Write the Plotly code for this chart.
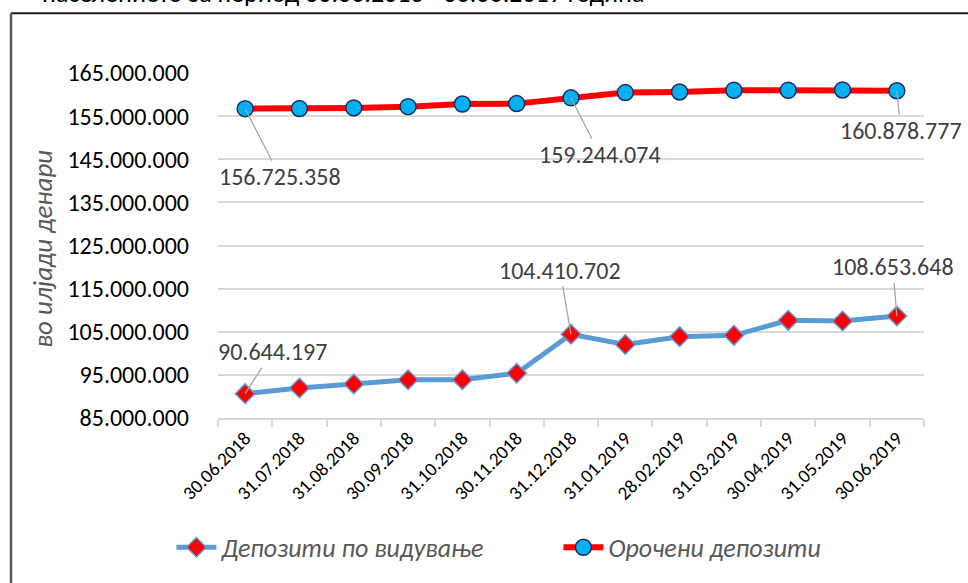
import plotly.graph_objects as go

dates = ["30.06.2018", "31.07.2018", "31.08.2018", "30.09.2018", "31.10.2018",
         "30.11.2018", "31.12.2018", "31.01.2019", "28.02.2019", "31.03.2019",
         "30.04.2019", "31.05.2019", "30.06.2019"]
demand = [90644197, 91970000, 92880000, 93860000, 93860000, 95380000, 104410702,
          102050000, 103860000, 104170000, 107650000, 107500000, 108653648]
term = [156725358, 156750000, 156900000, 157200000, 157800000, 157900000, 159244074,
        160450000, 160600000, 161000000, 161000000, 161060000, 160878777]
yticks = [85e6, 95e6, 105e6, 115e6, 125e6, 135e6, 145e6, 155e6, 165e6]
ytick_text = ["85.000.000", "95.000.000", "105.000.000", "115.000.000", "125.000.000",
              "135.000.000", "145.000.000", "155.000.000", "165.000.000"]
name_demand = "Депозити по видување"
name_term = "Орочени депозити"
ytitle = "во илјади денари"
top_text = "населението за период 30.06.2018 - 30.06.2019 година"

FONT = "Carlito, Lato, 'Open Sans', sans-serif"


def fmt(v):
    return f"{int(v):,}".replace(",", ".")


fig = go.Figure()
fig.add_trace(go.Scatter(
    x=dates, y=demand, name=name_demand, mode="lines+markers",
    line=dict(color="#5b9bd5", width=5),
    marker=dict(symbol="diamond", size=15, color="#ff0000",
                line=dict(color="#5b9bd5", width=1.5)),
))
fig.add_trace(go.Scatter(
    x=dates, y=term, name=name_term, mode="lines+markers",
    line=dict(color="#ff0000", width=6),
    marker=dict(symbol="circle", size=16, color="#00b0f0",
                line=dict(color="#1f2d5c", width=1.5)),
))

# data labels (index, series, ax, ay)
labels = [
    (0, term, 35, 68), (6, term, 29, 57), (12, term, 4, 40),
    (0, demand, 27, -42), (6, demand, -11, -64), (12, demand, -4, -49),
]
for i, s, ax, ay in labels:
    fig.add_annotation(
        x=dates[i], y=s[i], text=fmt(s[i]), showarrow=True, arrowhead=0,
        arrowcolor="#a6a6a6", arrowwidth=1.3, ax=ax, ay=ay, standoff=0,
        font=dict(family=FONT, size=24, color="#404040"),
    )

# y-axis title
fig.add_annotation(
    xref="paper", yref="paper", x=-0.249, y=0.491, xanchor="center", yanchor="middle",
    text=ytitle, textangle=-90, showarrow=False,
    font=dict(family=FONT, size=27, color="#595959", style="italic"),
)
# clipped title text at the top
fig.add_annotation(
    xref="paper", yref="paper", x=-0.252, y=1.232, xanchor="left", yanchor="middle",
    text=top_text, showarrow=False, font=dict(family=FONT, size=26, color="#000000"),
)

# chart border (top and left)
fig.add_shape(type="line", xref="paper", yref="paper", x0=-0.2932, x1=1.08,
              y0=1.173, y1=1.173, line=dict(color="#1a1a1a", width=2))
fig.add_shape(type="line", xref="paper", yref="paper", x0=-0.2932, x1=-0.2932,
              y0=1.173, y1=-0.48, line=dict(color="#5a5a5a", width=2.5))

fig.update_layout(
    width=968, height=583,
    margin=dict(l=218, r=44, t=73, b=158),
    paper_bgcolor="white", plot_bgcolor="white",
    font=dict(family=FONT, color="#000000"),
    showlegend=True,
    legend=dict(orientation="h", x=-0.066, xanchor="left", y=-0.375, yanchor="middle",
                font=dict(family=FONT, size=26, color="#595959", style="italic"),
                itemwidth=40, traceorder="normal", entrywidth=332,
                entrywidthmode="pixels"),
)
fig.update_xaxes(
    type="category", range=[-0.5, 12.5], tickangle=-45,
    tickfont=dict(family=FONT, size=19, color="#000000"),
    showgrid=False, showline=True, linecolor="#d9d9d9", linewidth=1.5,
    ticks="outside", tickson="boundaries", ticklen=7, tickcolor="#d9d9d9", tickwidth=1.5,
)
fig.update_yaxes(
    range=[85e6, 165e6], tickvals=yticks, ticktext=ytick_text,
    tickfont=dict(family=FONT, size=24, color="#000000"),
    showgrid=True, gridcolor="#d9d9d9", gridwidth=1.5, zeroline=False,
    showline=False, ticks="", ticklabelstandoff=28,
)

fig.write_html("out.html", config={"displayModeBar": False},
               post_script="document.body.style.margin='0';document.body.style.overflow='hidden';")
